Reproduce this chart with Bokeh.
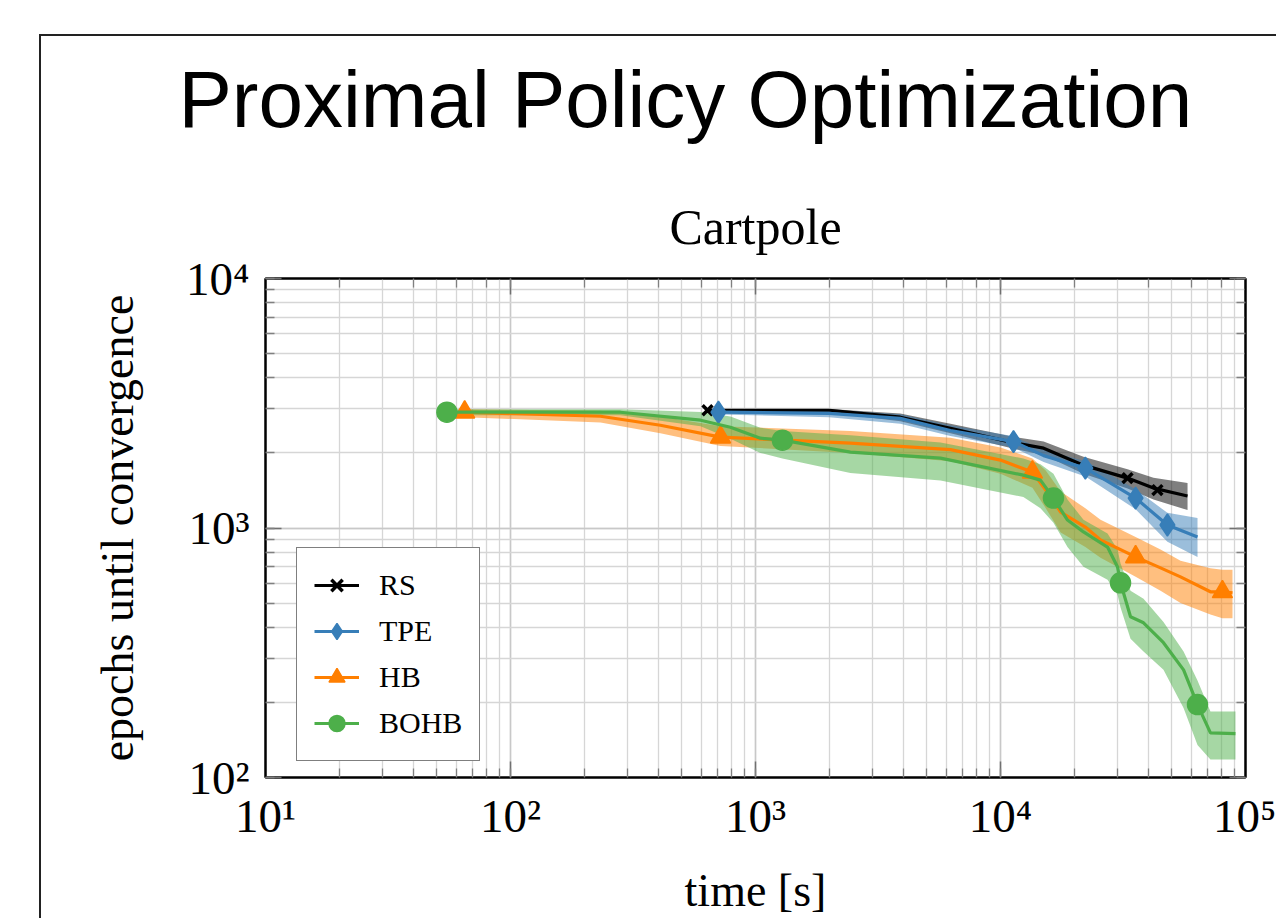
from bokeh.plotting import figure
from bokeh.models import (LogAxis, Title, Legend, LegendItem, CustomJSTickFormatter,
                          Range1d, LogTicker)
from bokeh.embed import file_html
from bokeh.resources import INLINE

# ---------------- data ----------------
rs_x = [637, 2000, 3900, 6250, 11000, 15000, 21800, 33000, 42100, 58000]
rs_y = [2965, 2965, 2780, 2512, 2208, 2089, 1786, 1585, 1445, 1343]
rs_hi = [3000, 3000, 2880, 2620, 2330, 2220, 1930, 1720, 1590, 1514]
rs_lo = [2900, 2900, 2680, 2400, 2090, 1960, 1650, 1440, 1300, 1180]
rs_mx = [637, 33000, 43700]
rs_my = [2965, 1585, 1419]

tpe_x = [706, 2000, 3900, 6250, 11300, 15000, 22200, 25600, 35600, 48000, 63700]
tpe_y = [2911, 2880, 2750, 2460, 2220, 1950, 1738, 1600, 1318, 1028, 920]
tpe_hi = [2980, 2980, 2860, 2580, 2330, 2060, 1850, 1720, 1430, 1150, 1096]
tpe_lo = [2850, 2780, 2620, 2340, 2100, 1840, 1610, 1470, 1190, 880, 766]
tpe_mx = [706, 11300, 22200, 35600, 48000]
tpe_my = [2911, 2220, 1738, 1318, 1028]

hb_x = [65, 233, 409, 720, 2440, 6250, 10000, 13500, 15300, 17600, 22200, 25600,
        35600, 45000, 54300, 71900, 80500, 88500]
hb_y = [2911, 2805, 2582, 2312, 2188, 2060, 1871, 1675, 1419, 1159, 1009, 895,
        766, 692, 637, 555, 555, 550]
hb_hi = [2990, 2950, 2800, 2560, 2450, 2300, 2100, 1900, 1700, 1400, 1200, 1080,
         920, 820, 740, 690, 680, 680]
hb_lo = [2780, 2650, 2400, 2130, 2000, 1850, 1650, 1450, 1200, 960, 840, 760,
         637, 560, 500, 450, 435, 435]
hb_mx = [65, 720, 13500, 35600, 80500]
hb_my = [2911, 2312, 1675, 766, 555]

bohb_x = [55, 281, 597, 790, 1047, 1288, 2440, 5690, 12400, 14560, 16450, 18770,
          21810, 27340, 30040, 30900, 33940, 38350, 46260, 55870, 63680, 71940, 90990]
bohb_y = [2911, 2911, 2704, 2535, 2291, 2249, 2014, 1905, 1629, 1556, 1318, 1076,
          964, 839, 698, 603, 441, 417, 347, 270, 196, 151, 150]
bohb_hi = [2990, 2990, 2920, 2800, 2520, 2450, 2355, 2200, 1900, 1800, 1650, 1300,
           1080, 950, 820, 720, 560, 520, 420, 320, 245, 184, 184]
bohb_lo = [2830, 2830, 2560, 2280, 2000, 1900, 1660, 1550, 1330, 1200, 1050, 840,
           700, 620, 540, 480, 360, 320, 270, 190, 135, 118, 118]
bohb_mx = [55, 1288, 16450, 30900, 63680]
bohb_my = [2911, 2249, 1318, 603, 196]

series_names = ["RS", "TPE", "HB", "BOHB"]
x_tick_labels = {10: "10¹", 100: "10²", 1000: "10³", 10000: "10⁴", 100000: "10⁵"}
y_tick_labels = {100: "10²", 1000: "10³", 10000: "10⁴"}

SERIF = "Liberation Serif"

p = figure(width=1276, height=918, x_axis_type="log", y_axis_type="log",
           x_range=Range1d(10, 1e5), y_range=Range1d(100, 1e4),
           output_backend="svg", toolbar_location=None, title=None,
           min_border_left=265, min_border_right=31, min_border_top=278,
           min_border_bottom=140)
# outer page frame (left and top edges) drawn as CSS background lines
p.border_fill_color = None
p.styles = {"background": "linear-gradient(#222,#222) 39px 34px / 2px 100% no-repeat, "
                          "linear-gradient(#222,#222) 39px 34px / 100% 2px no-repeat, white"}
p.background_fill_color = "white"
p.outline_line_color = "black"
p.outline_line_width = 2

# grid
p.grid.grid_line_color = "#c8c8c8"
p.grid.grid_line_width = 1.5
p.grid.minor_grid_line_color = "#d6d6d6"
p.grid.minor_grid_line_width = 1.3


def style_axis(ax, labels=None):
    ax.axis_line_color = "black"
    ax.axis_line_width = 2
    ax.major_tick_in = 16
    ax.major_tick_out = 0
    ax.minor_tick_in = 9
    ax.minor_tick_out = 0
    ax.major_tick_line_color = "#707070"
    ax.minor_tick_line_color = "#808080"
    ax.major_tick_line_width = 1.5
    ax.minor_tick_line_width = 1.3
    ax.major_label_text_font = SERIF
    ax.major_label_text_font_size = "47px"
    ax.major_label_text_color = "black"
    ax.axis_label_text_font = SERIF
    ax.axis_label_text_font_size = "46px"
    ax.axis_label_text_font_style = "normal"
    ax.axis_label_text_color = "black"
    if labels is not None:
        ax.major_label_overrides = labels


style_axis(p.xaxis[0], x_tick_labels)
style_axis(p.yaxis[0], y_tick_labels)
p.xaxis.axis_label = "time [s]"
p.yaxis.axis_label = "epochs until convergence"
p.xaxis.major_label_standoff = 12
p.yaxis.major_label_standoff = 16
p.xaxis.axis_label_standoff = 20
p.yaxis.axis_label_standoff = 40

blank = CustomJSTickFormatter(code="return ''")
top_ax = LogAxis(ticker=LogTicker(), formatter=blank)
right_ax = LogAxis(ticker=LogTicker(), formatter=blank)
style_axis(top_ax)
style_axis(right_ax)
for ax in (top_ax, right_ax):
    ax.major_label_standoff = 0
    ax.major_label_text_font_size = "1px"
p.add_layout(top_ax, "above")
p.add_layout(right_ax, "right")

p.add_layout(Title(text="Cartpole", text_font=SERIF, text_font_size="50px",
                   text_font_style="normal", text_color="black", align="center",
                   standoff=47), "above")
p.add_layout(Title(text="Proximal Policy Optimization", text_font="Liberation Sans",
                   text_font_size="80px", text_font_style="normal", text_color="black",
                   align="left", offset=-87, standoff=59), "above")

colors = ["black", "#377eb8", "#ff7f00", "#4daf4a"]
band_colors = ["#000000", "#377eb8", "#ff7f00", "#4daf4a"]
data = [(rs_x, rs_y, rs_lo, rs_hi, rs_mx, rs_my),
        (tpe_x, tpe_y, tpe_lo, tpe_hi, tpe_mx, tpe_my),
        (hb_x, hb_y, hb_lo, hb_hi, hb_mx, hb_my),
        (bohb_x, bohb_y, bohb_lo, bohb_hi, bohb_mx, bohb_my)]
markers = ["x", "diamond", "triangle", "circle"]
msizes = [14, 22, 20, 20]

for (x, y, lo, hi, mx, my), bc in zip(data, band_colors):
    p.varea(x=x, y1=lo, y2=hi, fill_color=bc, fill_alpha=0.5)

items = []
for name, (x, y, lo, hi, mx, my), c, m, s in zip(series_names, data, colors, markers, msizes):
    lr = p.line(x, y, line_color=c, line_width=3.2)
    mr = p.scatter(mx, my, marker=m, size=s, fill_color=c, line_color=c,
                   line_width=3.5 if m == "x" else 1.5)
    items.append(LegendItem(label=name, renderers=[lr, mr]))

legend = Legend(items=items, location=(31, 16), border_line_color="black",
                border_line_width=1.5, background_fill_color="white",
                background_fill_alpha=1.0, label_text_font=SERIF,
                label_text_font_size="30px", label_text_color="black",
                glyph_width=45, glyph_height=40,
                label_height=40, label_standoff=20, spacing=6, padding=17, margin=0)
p.add_layout(legend, "center")

open("out.html", "w").write(file_html(p, INLINE))
